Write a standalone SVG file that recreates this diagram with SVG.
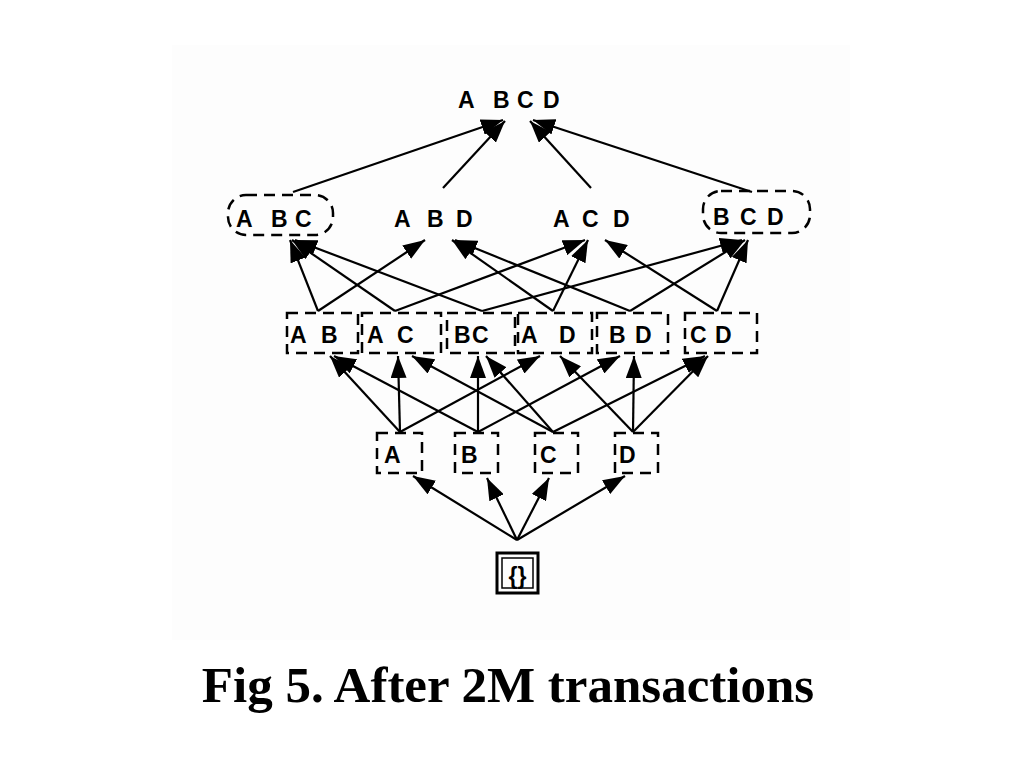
<svg xmlns="http://www.w3.org/2000/svg" width="1024" height="768" viewBox="0 0 1024 768">
  <style>
    .lbl { font-family: "Liberation Sans", Arial, sans-serif; font-size: 23px; font-weight: bold; fill: #000; }
    .cap { font-family: "Liberation Serif", "Times New Roman", serif; font-size: 51px; font-weight: bold; fill: #000; }
    .dash { fill: none; stroke: #000; stroke-width: 2.5; stroke-dasharray: 11 7; }
    .edge { stroke: #000; stroke-width: 2.2; fill: none; marker-end: url(#arr); }
  </style>
  <defs>
    <marker id="arr" viewBox="0 0 22 16" refX="22" refY="8" markerWidth="22" markerHeight="16" markerUnits="userSpaceOnUse" orient="auto">
      <path d="M0,0 L22,8 L0,16 z" fill="#000"/>
    </marker>
  </defs>
  <rect x="0" y="0" width="1024" height="768" fill="#ffffff"/>
  <rect x="172" y="45" width="678" height="595" fill="#fdfdfd"/>

  <g id="connectors">
    <!-- {} to level 1 -->
    <line class="edge" x1="517" y1="540" x2="413" y2="476"/>
    <line class="edge" x1="517" y1="540" x2="487" y2="478"/>
    <line class="edge" x1="517" y1="540" x2="549" y2="478"/>
    <line class="edge" x1="517" y1="540" x2="625" y2="476"/>
    <!-- level 1 to level 2 -->
    <line class="edge" x1="400" y1="432" x2="330" y2="356"/>
    <line class="edge" x1="400" y1="432" x2="398" y2="356"/>
    <line class="edge" x1="400" y1="432" x2="540" y2="356"/>
    <line class="edge" x1="478" y1="432" x2="334" y2="356"/>
    <line class="edge" x1="478" y1="432" x2="478" y2="356"/>
    <line class="edge" x1="478" y1="432" x2="620" y2="356"/>
    <line class="edge" x1="553" y1="432" x2="412" y2="356"/>
    <line class="edge" x1="553" y1="432" x2="486" y2="356"/>
    <line class="edge" x1="553" y1="432" x2="705" y2="356"/>
    <line class="edge" x1="633" y1="432" x2="560" y2="356"/>
    <line class="edge" x1="633" y1="432" x2="634" y2="356"/>
    <line class="edge" x1="633" y1="432" x2="708" y2="356"/>
    <!-- level 2 to level 3 -->
    <line class="edge" x1="318" y1="311" x2="290" y2="240"/>
    <line class="edge" x1="318" y1="311" x2="425" y2="240"/>
    <line class="edge" x1="395" y1="311" x2="292" y2="240"/>
    <line class="edge" x1="395" y1="311" x2="585" y2="240"/>
    <line class="edge" x1="482" y1="311" x2="295" y2="240"/>
    <line class="edge" x1="482" y1="311" x2="742" y2="240"/>
    <line class="edge" x1="553" y1="311" x2="452" y2="240"/>
    <line class="edge" x1="553" y1="311" x2="588" y2="240"/>
    <line class="edge" x1="630" y1="311" x2="455" y2="240"/>
    <line class="edge" x1="630" y1="311" x2="745" y2="240"/>
    <line class="edge" x1="717" y1="311" x2="605" y2="240"/>
    <line class="edge" x1="717" y1="311" x2="748" y2="240"/>
    <!-- level 3 to top -->
    <line class="edge" x1="293" y1="192" x2="503" y2="120"/>
    <line class="edge" x1="443" y1="188" x2="505" y2="121"/>
    <line class="edge" x1="591" y1="188" x2="530" y2="121"/>
    <line class="edge" x1="752" y1="192" x2="533" y2="120"/>
  </g>

  <g id="node-ABCD">
    <text class="lbl" x="458 478 493 517 543" y="108">A BCD</text>
  </g>

  <g id="node-ABC">
    <rect class="dash" x="228" y="195" width="105" height="40" rx="18"/>
    <text class="lbl" x="236 256 271 295" y="227">A BC</text>
  </g>
  <g id="node-ABD">
    <text class="lbl" x="394 414 427 442 456" y="227">A B D</text>
  </g>
  <g id="node-ACD">
    <text class="lbl" x="553 570 582 601 613" y="227">A C D</text>
  </g>
  <g id="node-BCD">
    <rect class="dash" x="703" y="191" width="107" height="42" rx="18"/>
    <text class="lbl" x="713 740 767" y="225">BCD</text>
  </g>

  <g id="node-AB">
    <rect class="dash" x="287" y="313" width="71" height="40"/>
    <text class="lbl" x="290 308 321" y="343">A B</text>
  </g>
  <g id="node-AC">
    <rect class="dash" x="362" y="313" width="79" height="40"/>
    <text class="lbl" x="367 385 397" y="343">A C</text>
  </g>
  <g id="node-BC">
    <rect class="dash" x="447" y="313" width="68" height="40"/>
    <text class="lbl" x="454 472" y="343">BC</text>
  </g>
  <g id="node-AD">
    <rect class="dash" x="518" y="313" width="74" height="40"/>
    <text class="lbl" x="521 545 559" y="343">A D</text>
  </g>
  <g id="node-BD">
    <rect class="dash" x="597" y="313" width="71" height="40"/>
    <text class="lbl" x="609 627 635" y="343">B D</text>
  </g>
  <g id="node-CD">
    <rect class="dash" x="685" y="313" width="72" height="40"/>
    <text class="lbl" x="690 708 715" y="343">C D</text>
  </g>

  <g id="node-A">
    <rect class="dash" x="377" y="433" width="45" height="40"/>
    <text class="lbl" x="384" y="463">A</text>
  </g>
  <g id="node-B">
    <rect class="dash" x="455" y="433" width="43" height="40"/>
    <text class="lbl" x="461" y="463">B</text>
  </g>
  <g id="node-C">
    <rect class="dash" x="535" y="433" width="43" height="40"/>
    <text class="lbl" x="540" y="463">C</text>
  </g>
  <g id="node-D">
    <rect class="dash" x="615" y="433" width="43" height="40"/>
    <text class="lbl" x="619" y="463">D</text>
  </g>

  <g id="node-empty">
    <rect x="497" y="553" width="41" height="40" fill="none" stroke="#000" stroke-width="3"/>
    <rect x="502" y="558" width="31" height="30" fill="none" stroke="#000" stroke-width="1.5"/>
    <text class="lbl" x="517.5" y="584" text-anchor="middle">{}</text>
  </g>

  <g id="caption">
    <text class="cap" x="508" y="702" text-anchor="middle">Fig 5. After 2M transactions</text>
  </g>
</svg>
